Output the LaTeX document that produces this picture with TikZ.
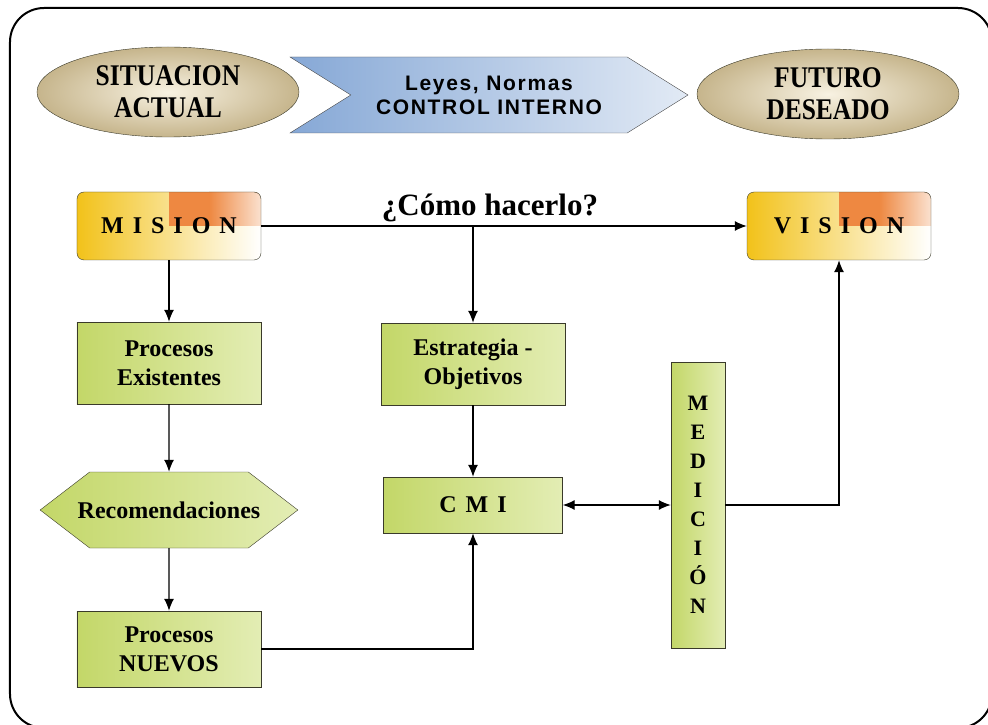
\documentclass[tikz,border=0pt]{standalone}
\usepackage{fontspec}
\setmainfont{Liberation Serif}
\newfontfamily\condfont[FakeStretch=0.85]{Liberation Serif}
\newfontfamily\chevfont[LetterSpace=8]{Liberation Sans}
\usepackage{tikz}
\usetikzlibrary{shapes.misc, positioning, shapes.geometric, shapes.symbols, arrows.meta}
\definecolor{tanlight}{HTML}{F8F2E2}
\definecolor{tandark}{HTML}{C6B58C}
\definecolor{bluedark}{HTML}{86A8D6}
\definecolor{bluelight}{HTML}{E2EAF5}
\definecolor{greendark}{HTML}{C3D768}
\definecolor{greenlight}{HTML}{E3EDB4}
\definecolor{yellowbox}{HTML}{F2C21A}
\definecolor{orangebox}{HTML}{EE8841}
\definecolor{linegray}{HTML}{3A3A2A}
\newcommand{\esp}{\hspace{9pt}}
\tikzstyle{ellbox} = [ellipse, minimum width=262pt, minimum height=90pt, align=center, draw=linegray, inner color=tanlight, outer color=tandark, font=\condfont\bfseries\fontsize{30}{32}\selectfont]
\tikzstyle{chevbox} = [signal, signal from=west, signal to=east, signal pointer angle=64, minimum width=398pt, minimum height=76pt, draw=gray!60!black, left color=bluedark, right color=bluelight, align=center, font=\chevfont\bfseries\fontsize{21}{24}\selectfont]
\tikzstyle{visbox} = [rectangle, rounded corners=7pt, minimum width=184pt, minimum height=68pt, draw=linegray, left color=yellowbox, right color=white, font=\fontsize{24}{28}\selectfont\bfseries,
  path picture={\fill[sharp corners, orangebox] (path picture bounding box.north) rectangle (path picture bounding box.east);
    \shade[sharp corners, left color=orangebox, right color=orangebox!25] ([xshift=40pt]path picture bounding box.north) rectangle (path picture bounding box.east);}]
\tikzstyle{procbox} = [rectangle, minimum width=184pt, minimum height=82pt, draw=linegray, left color=greendark, right color=greenlight, align=center, font=\fontsize{24}{29}\selectfont\bfseries]
\tikzstyle{hexbox} = [signal, signal to=west and east, signal pointer angle=75, inner xsep=-12pt, minimum height=76pt, draw=linegray, left color=greendark, right color=greenlight, font=\fontsize{24}{29}\selectfont\bfseries]
\tikzstyle{arrow} = [line width=1.2pt,-{Latex[length=12pt,width=10pt]}]
\tikzstyle{darrow} = [line width=1.2pt,{Latex[length=12pt,width=10pt]}-{Latex[length=12pt,width=10pt]}]
\begin{document}
\begin{tikzpicture}[node distance=100pt, x=1pt, y=1pt]
\useasboundingbox (-169,226) rectangle (819,-499);
\draw [line width=2pt, rounded corners=34pt] (-159,218) rectangle (823,-502);

\node (mision) [visbox] {M\esp I\esp S\esp I\esp O\esp N};
\node (vision) [visbox, right of=mision, xshift=570pt] {V\esp I\esp S\esp I\esp O\esp N};
\node (como) [right of=mision, xshift=221pt, yshift=18pt, font=\fontsize{31}{34}\selectfont\bfseries] {¿Cómo hacerlo?};

\node (situacion) [ellbox, above of=mision, yshift=34pt, xshift=-1pt] {SITUACION\\ACTUAL};
\node (futuro) [ellbox, above of=vision, yshift=32pt, xshift=-11pt] {FUTURO\\DESEADO};
\node (leyes) [chevbox, above of=mision, xshift=320pt, yshift=31pt] {Leyes, Normas\\CONTROL INTERNO};

\node (pexist) [procbox, below of=mision, yshift=-37pt] {Procesos\\Existentes};
\node (recom) [hexbox, below of=pexist, yshift=-47pt] {Recomendaciones};
\node (pnuevos) [procbox, below of=recom, yshift=-39pt, minimum height=76pt] {Procesos\\NUEVOS};

\node (estrat) [procbox, below of=mision, xshift=304pt, yshift=-38pt] {Estrategia -\\Objetivos};
\node (cmi) [procbox, below of=estrat, yshift=-41pt, minimum width=179pt, minimum height=56pt] {C\esp M\esp I};
\node (medic) [procbox, right of=cmi, xshift=125pt, minimum width=54pt, minimum height=286pt, font=\fontsize{22}{29}\selectfont\bfseries] {M\\E\\D\\I\\C\\I\\Ó\\N};

\coordinate (split) at (estrat |- mision);
\draw [arrow] (mision) -- (vision);
\draw [arrow] (split) -- (estrat);
\draw [arrow] (mision) -- (pexist);
\draw [arrow] (pexist) -- (recom);
\draw [arrow] (recom) -- (pnuevos);
\draw [arrow] (pnuevos) -| (cmi);
\draw [arrow] (estrat) -- (cmi);
\draw [darrow] (cmi) -- (medic);
\draw [arrow] (medic) -| (vision);

\end{tikzpicture}
\end{document}
